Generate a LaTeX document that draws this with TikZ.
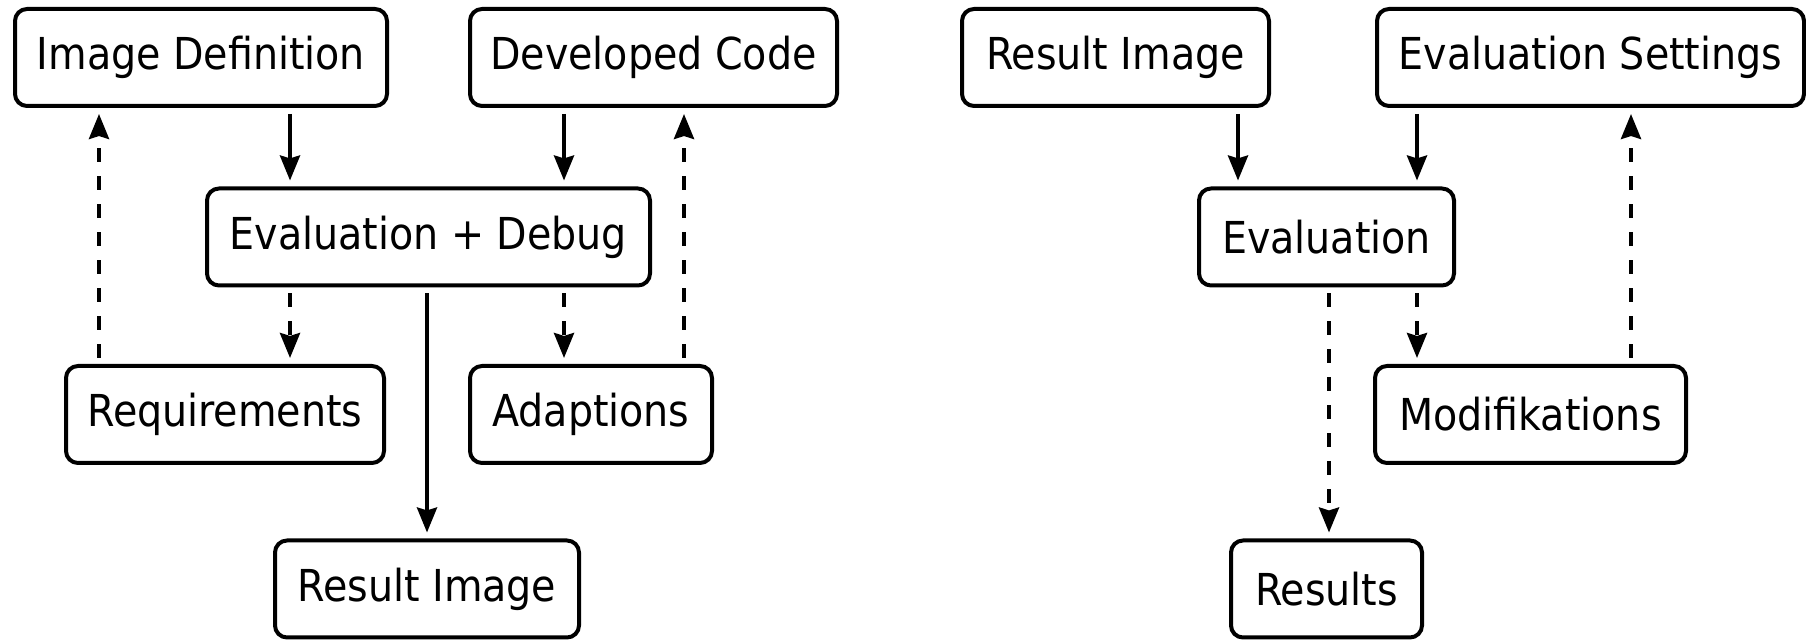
\documentclass[tikz,border=0pt]{standalone}
\usepackage{fontspec}
\setmainfont{DejaVu Sans Condensed}
\usetikzlibrary{arrows.meta}
\begin{document}
\begin{tikzpicture}[x=0.5pt, y=-0.5pt,
  box/.style={draw, line width=2pt, rounded corners=6pt, inner sep=0pt,
    minimum height=48.5pt, font=\fontsize{22}{26}\selectfont, align=center},
  flow/.style={line width=2pt, -{Stealth[length=12.5pt, width=10pt, inset=1.5pt]},
    shorten <=3pt, shorten >=3pt},
  back/.style={flow, dash pattern=on 7pt off 7pt}]
\useasboundingbox (0,0) rectangle (1806,640);

% left-hand cycle
\node[box, minimum width=186pt]   (imgdef) at (201,57.5)    {Image Definition};
\node[box, minimum width=183.5pt] (devcode) at (653.5,57.5) {Developed Code};
\node[box, minimum width=221.5pt] (evaldbg) at (428.5,237)  {Evaluation + Debug};
\node[box, minimum width=159pt]   (req) at (225,414.5)      {Requirements};
\node[box, minimum width=121pt]   (adapt) at (591,414.5)    {Adaptions};
\node[box, minimum width=152pt]   (resimgL) at (427,589)    {Result Image};

% right-hand cycle
\node[box, minimum width=153.5pt] (resimgR) at (1115.5,57.5) {Result Image};
\node[box, minimum width=213.5pt] (evalset) at (1590.5,57.5) {Evaluation Settings};
\node[box, minimum width=127.5pt] (eval) at (1326.5,237)     {Evaluation};
\node[box, minimum width=155.5pt] (modif) at (1530.5,414.5)  {Modifikations};
\node[box, minimum width=95.5pt]  (results) at (1326.5,589)  {Results};

% connectors, left
\draw[flow] (imgdef.south -| 290,0) -- (evaldbg.north -| 290,0);
\draw[flow] (devcode.south -| 564,0) -- (evaldbg.north -| 564,0);
\draw[back] (evaldbg.south -| 290,0) -- (req.north -| 290,0);
\draw[back] (evaldbg.south -| 564,0) -- (adapt.north -| 564,0);
\draw[back] (req.north -| 99,0) -- (imgdef.south -| 99,0);
\draw[back] (adapt.north -| 684,0) -- (devcode.south -| 684,0);
\draw[flow] (evaldbg.south -| 427,0) -- (resimgL.north -| 427,0);

% connectors, right
\draw[flow] (resimgR.south -| 1238,0) -- (eval.north -| 1238,0);
\draw[flow] (evalset.south -| 1417,0) -- (eval.north -| 1417,0);
\draw[back] (eval.south -| 1417,0) -- (modif.north -| 1417,0);
\draw[back] (eval.south -| 1329,0) -- (results.north -| 1329,0);
\draw[back] (modif.north -| 1631,0) -- (evalset.south -| 1631,0);
\end{tikzpicture}
\end{document}
